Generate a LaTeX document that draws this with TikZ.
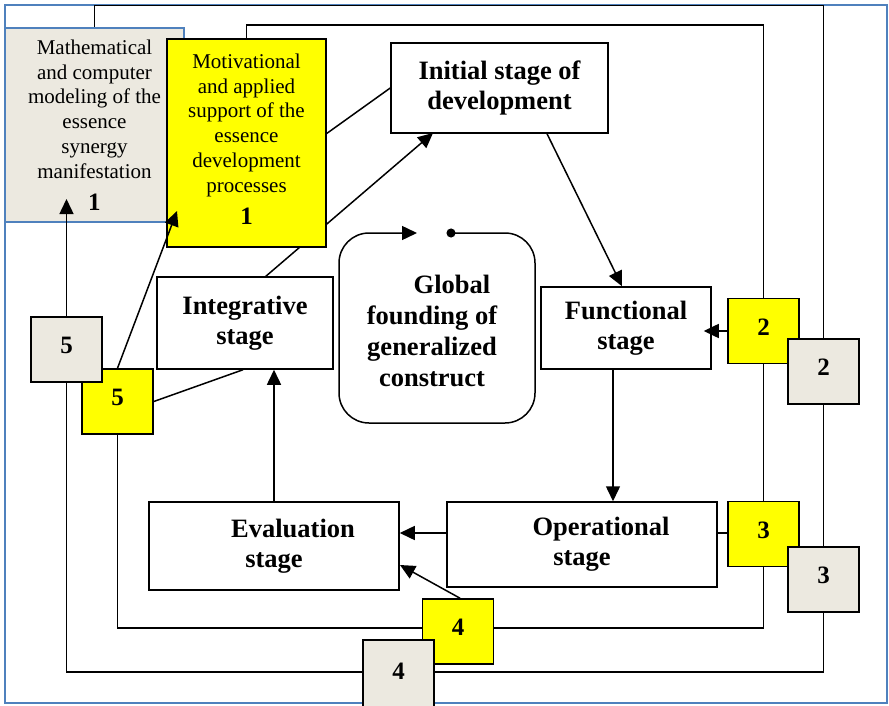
\documentclass[tikz,border=0pt]{standalone}
\usepackage{fontspec}
\setmainfont{Liberation Serif}
\usetikzlibrary{arrows.meta}
\definecolor{frameblue}{RGB}{79,129,189}
\definecolor{greyfill}{RGB}{236,233,224}
\definecolor{yel}{RGB}{255,255,0}
\begin{document}
\begin{tikzpicture}[x=1pt,y=-1pt,line width=1.5pt,
  stagebox/.style={draw, fill=white, inner sep=0pt, align=center,
    font=\fontsize{26.5}{30}\selectfont\bfseries},
  numbox/.style={draw, line width=1.6pt, minimum width=71pt, minimum height=65pt, inner sep=0pt,
    font=\fontsize{25}{28}\selectfont\bfseries, text depth=8pt},
  ybox/.style={numbox, fill=yel},
  gbox/.style={numbox, fill=greyfill},
  arr/.style={-{Triangle[length=15pt,width=14pt]}},
  bigtext/.style={align=center, inner sep=0pt, font=\fontsize{21}{24.8}\selectfont},
]
\useasboundingbox (0,0) rectangle (889,706);
\fill[white] (0,0) rectangle (889,706);
\draw[frameblue, line width=2pt] (5,5) rectangle (887,703);

% corner coordinates of the two loops
\coordinate (o1) at (94.5,5.5);
\coordinate (o2) at (823.5,5.5);
\coordinate (o3) at (823.5,672);
\coordinate (i1) at (246.5,25);
\coordinate (i2) at (763.5,25);
\coordinate (i3) at (763.5,628);

% stage boxes
\node[stagebox, minimum width=217pt, minimum height=90pt] (ini) at (499.5,88) {Initial stage of\\development};
\node[stagebox, minimum width=170pt, minimum height=82pt] (fun) at (626,328) {Functional\\stage};
\node[stagebox, minimum width=270pt, minimum height=85pt] (op) at (582,544.5) {\hspace*{38pt}Operational\\stage};
\node[stagebox, minimum width=250pt, minimum height=88pt] (ev) at (274,546) {\hspace*{38pt}Evaluation\\stage};
\node[stagebox, minimum width=176pt, minimum height=92pt] (int) at (245,323) {Integrative\\stage};

\coordinate (g1c) at (94.5,125);
\coordinate (y1c) at (246.5,143);

% loops
\draw (94.5,28) -- (o1) -- (o2) -- (o3) -| (66.5,382);
\draw (246.5,39) -- (i1) -- (i2) -- (i3) -| (117.5,434);

% lines passing behind the first yellow box
\coordinate (intout) at (265,277);
\coordinate (initip) at (433,133);
\draw[arr] (intout) -- (initip);
\coordinate (y1out) at (326,134);
\draw (y1out) -- (ini.west);

% boxes
\node[draw=frameblue, line width=1.8pt, fill=greyfill, minimum width=179pt, minimum height=194pt, inner sep=0pt,
  bigtext] (g1) at (g1c) {Mathematical\\and computer\\modeling of the\\essence\\synergy\\manifestation\\[7pt]{\fontsize{25}{25}\selectfont\bfseries 1}};
\node[draw, line width=1.6pt, fill=yel, minimum width=159pt, minimum height=208pt, inner sep=0pt,
  bigtext, text depth=8pt] (y1) at (y1c) {Motivational\\and applied\\support of the\\essence\\development\\processes\\[7pt]{\fontsize{25}{25}\selectfont\bfseries 1}};

\node[ybox] (y2) at (763.5,331) {2};
\node[ybox] (y3) at (763.5,534) {3};
\node[ybox] (y4) at (458,631.5) {4};
\node[ybox] (y5) at (117.5,401.5) {5};
\node[gbox] (g2) at (823.5,371.5) {2};
\node[gbox] (g3) at (823.5,579.5) {3};
\node[gbox, minimum height=70pt] (g4) at (398.5,675) {4};
\node[gbox] (g5) at (66.5,349.5) {5};

% global founding
\node[align=center, inner sep=0pt, font=\fontsize{26.5}{30.7}\selectfont\bfseries] (glob) at (432,331)
  {\hspace*{40pt}Global\\founding of\\generalized\\construct};
\draw[rounded corners=30pt, {Circle[length=9pt]}-{Triangle[length=15pt,width=14pt]}]
  (446.5,233) -- (535,233) -- (535,423) -- (339,423) -- (339,233) -- (417,233);

% stage arrows
\draw[arr] ([xshift=47.5pt]ini.south) -- ([xshift=-4pt]fun.north);
\draw[arr] ([xshift=-13pt]fun.south) -- ([xshift=31pt]op.north);
\draw[arr] ([yshift=11.5pt]op.west) coordinate (opw) -- (opw -| ev.east);
\draw[arr] (ev.north) -- (ev.north |- int.south);

% connections of numbered boxes
\coordinate (g1tip) at (66.5,199);
\coordinate (y1tip) at (177,211);
\coordinate (evtip) at (400,565);
\draw[arr] (g5.north) -- (g1tip);
\draw[arr] (y5.north) -- (y1tip);
\draw (y5.east) -- ([xshift=-2pt]int.south);
\draw[arr, shorten >=-8pt] (y2.west) -- (y2.west -| fun.east);
\draw ([yshift=1pt]y3.west) coordinate (y3w) -- (y3w -| op.east);
\draw[arr] ([xshift=2pt]y4.north) -- (evtip);
\end{tikzpicture}
\end{document}
